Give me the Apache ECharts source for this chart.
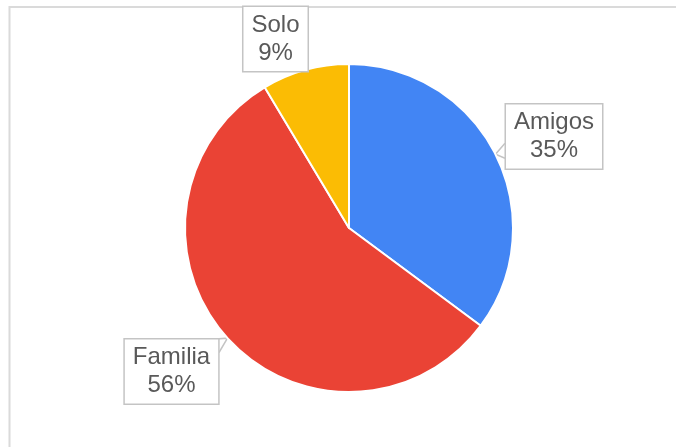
<!DOCTYPE html>
<html>
<head>
<meta charset="utf-8">
<script src="https://cdn.jsdelivr.net/npm/echarts@6/dist/echarts.min.js"></script>
<style>
html,body{margin:0;padding:0;background:#fff;}
#chart{width:676px;height:447px;}
</style>
</head>
<body>
<div id="chart"></div>
<script>
const categories = ['Amigos', 'Familia', 'Solo'];
const values = [45, 72, 11];
const colors = ['#4285F4', '#EA4335', '#FBBC04'];

// label box placement (center x, center y, width) per category
const boxLayout = {
  'Amigos': { cx: 554, cy: 136.5, w: 98, pointer: 'left' },
  'Familia': { cx: 171.5, cy: 371.5, w: 95, pointer: 'topright' },
  'Solo': { cx: 275.5, cy: 39, w: 65, pointer: 'none' }
};
const BOX_H = 64;

const chart = echarts.init(document.getElementById('chart'));

const data = categories.map((name, i) => ({
  name: name,
  value: values[i],
  itemStyle: { color: colors[i] },
  labelLine: { show: boxLayout[name].pointer !== 'none' }
}));

chart.setOption({
  animation: false,
  backgroundColor: '#ffffff',
  graphic: [{
    type: 'rect',
    shape: { x: 9.5, y: 7, width: 900, height: 700 },
    style: { fill: 'none', stroke: '#dadada', lineWidth: 2 },
    silent: true,
    z: -10
  }],
  series: [{
    type: 'pie',
    center: [349, 228],
    radius: 164,
    startAngle: 90,
    clockwise: true,
    data: data,
    itemStyle: { borderColor: '#ffffff', borderWidth: 2 },
    label: {
      show: true,
      position: 'outside',
      formatter: function (p) { return p.name + '\n' + Math.round(p.percent) + '%'; },
      fontFamily: 'Liberation Sans, Arial, sans-serif',
      fontSize: 24,
      lineHeight: 28,
      color: '#595959',
      align: 'center',
      backgroundColor: '#ffffff',
      borderColor: '#c4c4c4',
      borderWidth: 1.5,
      padding: [8, 8, 0, 8]
    },
    labelLine: {
      show: true,
      length: 5,
      length2: 5,
      smooth: false,
      lineStyle: { color: '#c4c4c4', width: 1.5 }
    },
    labelLayout: function (params) {
      const name = categories[params.dataIndex];
      const b = boxLayout[name];
      const out = {
        x: b.cx,
        y: b.cy,
        align: 'center',
        verticalAlign: 'middle',
        moveOverlap: null
      };
      const pts = params.labelLinePoints;
      if (pts && b.pointer !== 'none') {
        const tip = pts[0];
        const left = b.cx - b.w / 2;
        const right = b.cx + b.w / 2;
        const top = b.cy - BOX_H / 2;
        if (b.pointer === 'left') {
          out.labelLinePoints = [[left, tip[1] - 11], [tip[0], tip[1]], [left, tip[1] + 4]];
        } else if (b.pointer === 'topright') {
          out.labelLinePoints = [[right - 10, top], [tip[0], tip[1]], [right, top + 13]];
        }
      }
      return out;
    }
  }]
});
</script>
</body>
</html>
